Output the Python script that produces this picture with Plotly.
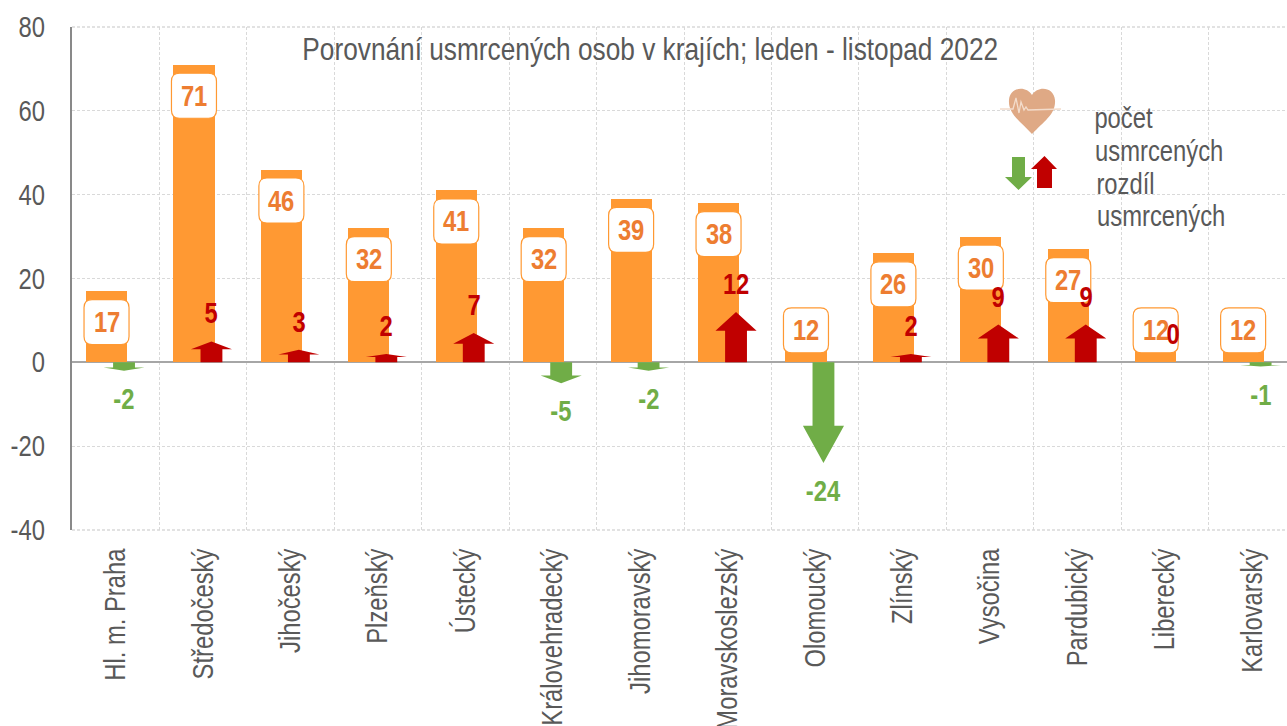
import plotly.graph_objects as go

categories = ["Hl. m. Praha", "Středočeský", "Jihočeský", "Plzeňský", "Ústecký",
              "Královehradecký", "Jihomoravský", "Moravskoslezský", "Olomoucký",
              "Zlínský", "Vysočina", "Pardubický", "Liberecký", "Karlovarský"]
deaths = [17, 71, 46, 32, 41, 32, 39, 38, 12, 26, 30, 27, 12, 12]
differences = [-2, 5, 3, 2, 7, -5, -2, 12, -24, 2, 9, 9, 0, -1]
y_ticks = [-40, -20, 0, 20, 40, 60, 80]
title_text = "Porovnání usmrcených osob v krajích; leden - listopad 2022"
legend_lines = ["počet", "usmrcených", "rozdíl", "usmrcených"]

W, H = 1287, 726
L, T, R, B = 72, 27, 1287, 530
FONT = "Liberation Sans"
SIZE = 29
GREY = "#595959"
ORANGE = "#FF9933"
LABEL = "#ED7D31"
RED = "#C00000"
GREEN = "#70AD47"
GRID = "#D9D9D9"
DASH = "3px,2px"
ARROW_X = 0.095
BAR_LEFT, BAR_W = -0.34, 0.47
HEAD_W, SHAFT_W, HEAD_FRAC = 0.235, 0.125, 0.37
PX_PER_UNIT = (B - T) / 120


def px(x):
    return (x - L) / (R - L)


def py(y):
    return (B - y) / (B - T)


def arrow(i, d):
    c = i + ARROW_X
    neck = d * (1 - HEAD_FRAC)
    return ([c - SHAFT_W, c - SHAFT_W, c - HEAD_W, c, c + HEAD_W, c + SHAFT_W, c + SHAFT_W, c - SHAFT_W, None],
            [0, neck, neck, d, neck, neck, 0, 0, None])


def box_path(shift, half=22.5, r=8):
    # pixel-mode path around the anchor; y grows upward
    t, b = -shift + half, -shift - half
    return (f"M {-half + r} {t} L {half - r} {t} Q {half} {t} {half} {t - r} "
            f"L {half} {b + r} Q {half} {b} {half - r} {b} L {-half + r} {b} "
            f"Q {-half} {b} {-half} {b + r} L {-half} {t - r} Q {-half} {t} {-half + r} {t} Z")


fig = go.Figure()
xs = list(range(len(categories)))
fig.add_trace(go.Bar(x=xs, y=deaths, width=BAR_W, offset=BAR_LEFT,
                     marker=dict(color=ORANGE, line_width=0), showlegend=False))

for color, test in ((RED, lambda d: d > 0), (GREEN, lambda d: d < 0)):
    ax, ay = [], []
    for i, d in enumerate(differences):
        if test(d):
            a, b = arrow(i, d)
            ax += a
            ay += b
    fig.add_trace(go.Scatter(x=ax, y=ay, mode="lines", fill="toself", fillcolor=color,
                             line=dict(width=0, color=color), showlegend=False, hoverinfo="skip"))

shapes = []
annotations = []
for i, v in enumerate(deaths):
    shift = min(31, v * PX_PER_UNIT - 32)  # box sits below the bar top, but stays clear of the axis
    cx = i + BAR_LEFT + BAR_W / 2
    shapes.append(dict(type="path", path=box_path(shift), xref="x", yref="y",
                       xsizemode="pixel", ysizemode="pixel", xanchor=cx, yanchor=v,
                       fillcolor="white", line=dict(color=ORANGE, width=1.2), layer="above"))
    annotations.append(dict(x=cx, y=v, yshift=-shift, text=f"<b>{v}</b>", showarrow=False,
                            font=dict(family=FONT, size=SIZE, color=LABEL)))

for i, d in enumerate(differences):
    color = GREEN if d < 0 else RED
    annotations.append(dict(x=i + ARROW_X, y=d, yshift=(-28 if d < 0 else 28),
                            text=f"<b>{d}</b>", showarrow=False,
                            font=dict(family=FONT, size=SIZE, color=color)))

annotations.append(dict(xref="paper", yref="paper", x=px(650), y=py(49), text=title_text,
                        xanchor="center", yanchor="middle", showarrow=False,
                        font=dict(family=FONT, size=32, color=GREY)))

legend_pos = [(1123, 118), (1159, 151), (1125, 184), (1161, 216)]
for (lx, ly), t in zip(legend_pos, legend_lines):
    annotations.append(dict(xref="paper", yref="paper", x=px(lx), y=py(ly), text=t,
                            xanchor="center", yanchor="middle", showarrow=False,
                            font=dict(family=FONT, size=SIZE, color=GREY)))


def paper_path(points):
    return "M " + " L ".join(f"{px(x):.5f} {py(y):.5f}" for x, y in points) + " Z"


# chart border gridlines (plotly drops gridlines at range ends when bars are present)
for y0 in (0, 1):
    shapes.append(dict(type="line", xref="paper", yref="paper", x0=0, x1=1, y0=y0, y1=y0, layer="below",
                       line=dict(color=GRID, width=1.3, dash=DASH)))

# legend icons
HEART = "#DFA985"
shapes.append(dict(type="path", xref="paper", yref="paper",
                   path=f"M {px(1032):.5f} {py(134):.5f} "
                        f"C {px(1020):.5f} {py(121):.5f} {px(1008):.5f} {py(114):.5f} {px(1009):.5f} {py(100):.5f} "
                        f"C {px(1010):.5f} {py(87):.5f} {px(1026):.5f} {py(85):.5f} {px(1032):.5f} {py(95):.5f} "
                        f"C {px(1038):.5f} {py(85):.5f} {px(1054):.5f} {py(87):.5f} {px(1055):.5f} {py(100):.5f} "
                        f"C {px(1056):.5f} {py(114):.5f} {px(1044):.5f} {py(121):.5f} {px(1032):.5f} {py(134):.5f} Z",
                   fillcolor=HEART, line_width=0))
ecg = [(1000, 109), (1013, 109), (1016, 98), (1019, 113), (1021, 102), (1024, 110), (1026, 107), (1028, 110), (1061, 109)]
shapes.append(dict(type="path", xref="paper", yref="paper",
                   path="M " + " L ".join(f"{px(x):.5f} {py(y):.5f}" for x, y in ecg),
                   line=dict(color="#F3DCCB", width=1.3)))
shapes.append(dict(type="path", xref="paper", yref="paper", fillcolor=GREEN, line_width=0,
                   path=paper_path([(1012, 157), (1025, 157), (1025, 177), (1032, 177), (1018.5, 190),
                                    (1005, 177), (1012, 177)])))
shapes.append(dict(type="path", xref="paper", yref="paper", fillcolor=RED, line_width=0,
                   path=paper_path([(1037, 188), (1052, 188), (1052, 169), (1057, 169), (1044.5, 156),
                                    (1031, 169), (1037, 169)])))

fig.update_layout(
    width=W, height=H, margin=dict(l=L, r=W - R, t=T, b=H - B, pad=0), autosize=False,
    paper_bgcolor="white", plot_bgcolor="white", shapes=shapes, annotations=annotations,
    font=dict(family=FONT, color=GREY),
    bargap=0,
    xaxis=dict(range=[-0.5, (R - L) / 87.43 - 0.5], tickmode="array", tickvals=xs, ticktext=categories,
               tickangle=-90, tickfont=dict(family=FONT, size=SIZE, color=GREY), showgrid=False,
               zeroline=False, showline=False, ticks="outside", ticklen=6, tickcolor="rgba(0,0,0,0)",
               automargin=False,
               minor=dict(tickmode="array", tickvals=[i + 0.5 for i in xs], showgrid=True,
                          gridcolor=GRID, griddash=DASH, gridwidth=1.3, ticks="")),
    yaxis=dict(range=[-40, 80], tickmode="array", tickvals=y_ticks, ticktext=[str(t) for t in y_ticks],
               tickfont=dict(family=FONT, size=SIZE, color=GREY), showgrid=True, gridcolor=GRID,
               griddash=DASH, gridwidth=1.3, zeroline=True, zerolinecolor="#A6A6A6", zerolinewidth=2,
               showline=True, linecolor="#898989", linewidth=1.5,
               ticks="outside", ticklen=19.5, tickcolor="rgba(0,0,0,0)", automargin=False),
)

# Page margin off, and the reference's horizontally condensed glyphs (real text, narrowed in place)
post = """
document.body.style.margin = '0';
var gd = document.getElementById('{plot_id}');
function narrow() {
  gd.querySelectorAll('svg text').forEach(function (t) {
    if (t.dataset.nw) return;
    var l = t.getComputedTextLength();
    if (l > 0) {
      t.setAttribute('textLength', l * 0.82);
      t.setAttribute('lengthAdjust', 'spacingAndGlyphs');
      t.dataset.nw = '1';
    }
  });
}
narrow();
setTimeout(narrow, 50);
"""
fig.write_html("out.html", config=dict(displayModeBar=False), post_script=post)
